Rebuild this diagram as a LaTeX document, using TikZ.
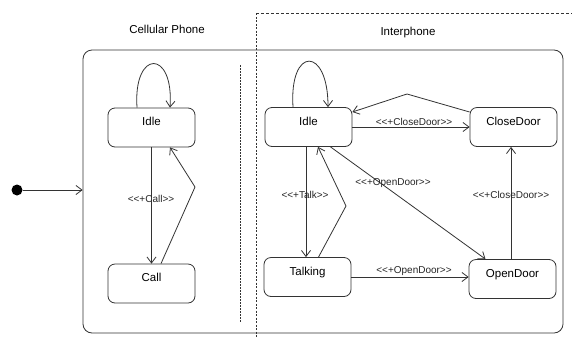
\documentclass[tikz,border=0pt]{standalone}
\usepackage{fontspec}
\setmainfont{Liberation Sans}
\usetikzlibrary{arrows.meta,calc}
\newcommand{\stq}[1]{{<}{<}+#1{>}{>}}
\begin{document}
\begin{tikzpicture}[x=1pt,y=-1pt,
  line width=0.8pt, draw=black!80,
  statebox/.style={draw=black!80, rounded corners=7pt, minimum width=87pt, minimum height=39pt, inner sep=0pt,
     font=\fontsize{11.5}{12}\selectfont, text height=8pt, text depth=12pt},
  trans/.style={-{Straight Barb[length=6pt,width=9pt]}},
  lbl/.style={font=\fontsize{10}{11}\selectfont, inner sep=0pt, text=black!85},
  title/.style={font=\fontsize{11.5}{12}\selectfont, inner sep=0pt}]
\useasboundingbox (0,0) rectangle (572,338);
\fill[white] (0,0) rectangle (572,338);
% region separators
\draw[line width=0.6pt, dash pattern=on 3pt off 2pt] (256,13) -- (572,13);
\draw[line width=0.6pt, dash pattern=on 2pt off 1.5pt] (256,13) -- (256,338);
\draw[line width=0.6pt, dash pattern=on 1.5pt off 1.5pt] (240,65) -- (240,323);
% outer state
\node[draw=black!80, rounded corners=9pt, minimum width=480pt, minimum height=283pt, inner sep=0pt] (outer) at (323,191.5) {};
\node[title] (tcell) at (167,29) {Cellular Phone};
\node[title] (tinter) at (408,33) {Interphone};
% initial
\node[circle, fill=black, minimum size=11pt, inner sep=0pt] (init) at (17,190) {};
\draw[trans] (init) -- (init -| outer.west);
% cellular phone
\node[statebox] (cIdle) at (151.5,127.5) {Idle};
\node[statebox] (cCall) at (151.5,283.5) {Call};
\draw[trans] ($(cIdle.north)+(-14.5,0)$) .. controls (133,49) and (174,49) .. ($(cIdle.north)+(18.5,0)$);
\draw[trans] (cIdle.south) -- (cCall.north);
\draw[trans] ($(cCall.north)+(9.5,0)$) -- (195,187) -- ($(cIdle.south)+(18.5,0)$);
\node[lbl] (lcall) at (151,199) {\stq{Call}};
% interphone
\node[statebox] (iIdle) at (308.5,127) {Idle};
\node[statebox] (close) at (513.5,127) {CloseDoor};
\node[statebox] (talk) at (307.5,277) {Talking};
\node[statebox] (open) at (512.5,279) {OpenDoor};
\draw[trans] ($(iIdle.north)+(-15.5,0)$) .. controls (289,46) and (328,46) .. ($(iIdle.north)+(19.5,0)$);
\draw[trans] (iIdle.east) -- (close.west);
\draw[trans] ($(close.west)+(0,-15)$) -- (407,94) -- ($(iIdle.east)+(0,-15)$);
\draw[trans] ($(iIdle.south)+(22,0)$) -- ($(open.north)+(-27,0)$);
\draw[trans] ($(iIdle.south)+(-2.5,0)$) -- ($(talk.north)+(-1.5,0)$);
\draw[trans] ($(talk.north)+(11,0)$) -- (346,206) -- ($(iIdle.south)+(9.5,0)$);
\draw[trans] (talk.east) -- (talk.east -| open.west);
\draw[trans] ($(open.north)+(-1.5,0)$) -- ($(close.south)+(-2.5,0)$);
\node[lbl] (lclose1) at (414,122) {\stq{CloseDoor}};
\node[lbl] (lopen1) at (393,183) {\stq{OpenDoor}};
\node[lbl] (ltalk) at (305,195) {\stq{Talk}};
\node[lbl] (lopen2) at (414,271) {\stq{OpenDoor}};
\node[lbl] (lclose2) at (511,195) {\stq{CloseDoor}};
\end{tikzpicture}
\end{document}
